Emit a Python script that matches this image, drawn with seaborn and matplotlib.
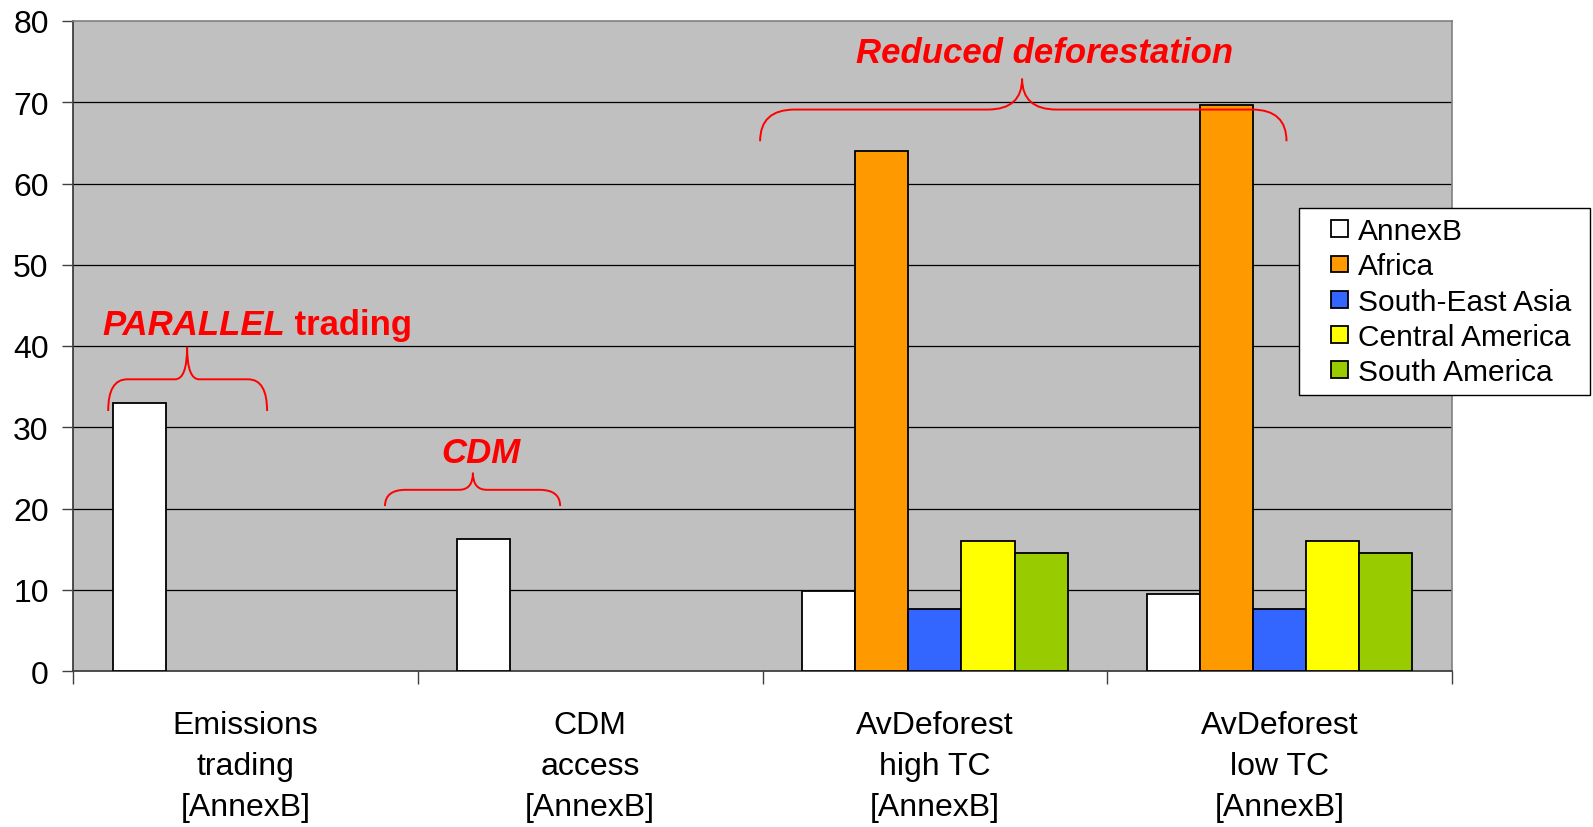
import numpy as np
import pandas as pd
import matplotlib
matplotlib.use("Agg")
import matplotlib.pyplot as plt
import seaborn as sns
from matplotlib.patches import Rectangle, PathPatch
from matplotlib.path import Path
from matplotlib.legend_handler import HandlerPatch

# ---- data -------------------------------------------------------------
scenarios = ["Emissions\ntrading\n[AnnexB]", "CDM\naccess\n[AnnexB]",
             "AvDeforest\nhigh TC\n[AnnexB]", "AvDeforest\nlow TC\n[AnnexB]"]
regions = ["AnnexB", "Africa", "South-East Asia", "Central America", "South America"]
annexb = [33.0, 16.3, 9.8, 9.5]
africa = [np.nan, np.nan, 64.0, 69.7]
se_asia = [np.nan, np.nan, 7.6, 7.6]
central_america = [np.nan, np.nan, 16.0, 16.0]
south_america = [np.nan, np.nan, 14.5, 14.5]
region_colors = ["#FFFFFF", "#FF9900", "#3366FF", "#FFFF00", "#99CC00"]
y_ticks = [0, 10, 20, 30, 40, 50, 60, 70, 80]

series = dict(zip(regions, [annexb, africa, se_asia, central_america, south_america]))
rows = []
for reg, vals in series.items():
    for sc, v in zip(scenarios, vals):
        if not np.isnan(v):
            rows.append({"scenario": sc, "region": reg, "value": v})
df = pd.DataFrame(rows)

FONT = "Liberation Sans"
plt.rcParams["font.family"] = [FONT, "DejaVu Sans"]

fig = plt.figure(figsize=(15.93, 8.28), dpi=100)
ax = fig.add_axes([73 / 1593, 1 - 672 / 828, 1379 / 1593, 650 / 828])
ax.set_facecolor("#C0C0C0")

sns.barplot(data=df, x="scenario", y="value", hue="region",
            order=scenarios, hue_order=regions,
            palette=dict(zip(regions, region_colors)), saturation=1,
            width=0.77, edgecolor="black", linewidth=1.3,
            legend=False, ax=ax, zorder=3)

# ---- axes styling -----------------------------------------------------
ax.set_xlim(-0.5, len(scenarios) - 0.5)
ax.set_ylim(y_ticks[0], y_ticks[-1])
ax.set_yticks(y_ticks)
ax.set_xlabel("")
ax.set_ylabel("")
for t in y_ticks[1:-1]:
    ax.axhline(t, color="black", lw=0.9, zorder=1)

for side in ("top", "right"):
    ax.spines[side].set_color("#808080")
    ax.spines[side].set_linewidth(1.2)
ax.spines["left"].set_color("#404040")
ax.spines["left"].set_linewidth(1.3)
ax.spines["bottom"].set_color("#404040")
ax.spines["bottom"].set_linewidth(1.3)

ax.tick_params(axis="y", direction="out", length=8, width=1.0, color="#404040",
               labelsize=23, pad=9.5)
ax.tick_params(axis="x", which="major", length=0, labelsize=23, pad=28)
ax.set_xticks(np.arange(-0.5, len(scenarios) + 0.5), minor=True)
ax.tick_params(axis="x", which="minor", direction="out", length=9, width=1.0,
               color="#404040")
for lab in ax.get_xticklabels():
    lab.set_linespacing(1.47)

# ---- braces and annotations --------------------------------------------
RED = "#FF0000"


def brace(x0, xm, x1, y_end, y_mid, y_tip, r_end, r_mid):
    verts = [(x0, y_end), (x0, y_mid), (x0 + r_end, y_mid),
             (xm - r_mid, y_mid), (xm, y_mid), (xm, y_tip),
             (xm, y_mid), (xm + r_mid, y_mid),
             (x1 - r_end, y_mid), (x1, y_mid), (x1, y_end)]
    codes = [Path.MOVETO, Path.CURVE3, Path.CURVE3,
             Path.LINETO, Path.CURVE3, Path.CURVE3,
             Path.CURVE3, Path.CURVE3,
             Path.LINETO, Path.CURVE3, Path.CURVE3]
    ax.add_patch(PathPatch(Path(verts, codes), fill=False, edgecolor=RED,
                           lw=1.4, zorder=5, clip_on=False))


brace(-0.398, -0.169, 0.063, 32.0, 35.9, 39.9, 0.055, 0.035)
brace(0.405, 0.660, 0.913, 20.3, 22.3, 24.4, 0.06, 0.04)
brace(1.493, 2.253, 3.020, 65.2, 69.1, 72.9, 0.10, 0.10)

ann_font = dict(color=RED, fontsize=25, fontweight="bold", zorder=6)
t1 = ax.text(-0.416, 41.5, "PARALLEL", style="italic", ha="left", va="baseline",
             **ann_font)
ax.annotate(" trading", xy=(1, 0), xycoords=t1, ha="left", va="bottom",
            **ann_font)
ax.text(0.683, 25.7, "CDM", style="italic", ha="center", va="baseline", **ann_font)
ax.text(2.318, 75.0, "Reduced deforestation", style="italic", ha="center",
        va="baseline", **ann_font)

# ---- legend -----------------------------------------------------------
SQ = 12.2  # legend swatch side in points


def square_patch(legend, orig_handle, xdescent, ydescent, width, height, fontsize):
    return Rectangle((-xdescent + width - SQ, -ydescent + (height - SQ) / 2), SQ, SQ)


handles = [Rectangle((0, 0), 1, 1, facecolor=c, edgecolor="black", lw=1.3)
           for c in region_colors]
leg_x0, leg_x1, leg_top = 1299 / 1593, 1590 / 1593, 1 - 209 / 828
leg = fig.legend(handles, regions, loc="upper left",
                 bbox_to_anchor=(leg_x0, leg_top - 0.01, leg_x1 - leg_x0, 0.01),
                 mode="expand",
                 fontsize=21.5, frameon=True, fancybox=False, framealpha=1,
                 edgecolor="black", borderpad=0.31, labelspacing=0.24,
                 handlelength=1.33, handleheight=0.7, handletextpad=0.335,
                 borderaxespad=0,
                 handler_map={Rectangle: HandlerPatch(patch_func=square_patch)})
leg.get_frame().set_linewidth(1.0)

fig.savefig("out.png", dpi=100, facecolor="white")
